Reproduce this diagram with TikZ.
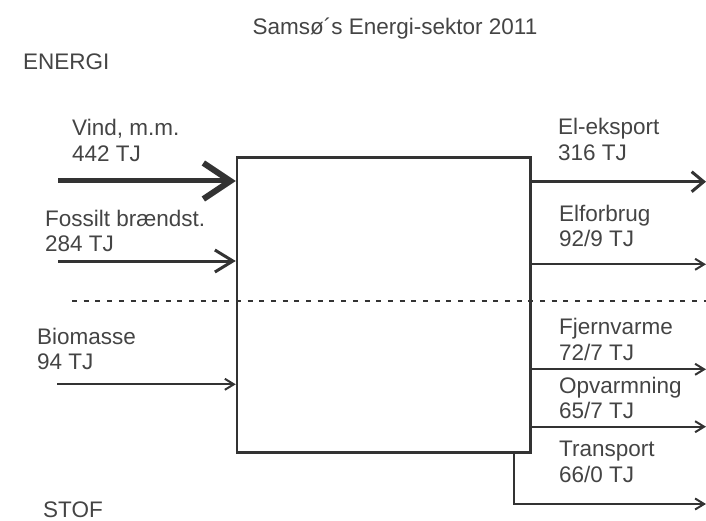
\documentclass[tikz,border=0pt]{standalone}
\usepackage{fontspec}
\setmainfont{Liberation Sans}
\usetikzlibrary{arrows.meta}
\definecolor{txt}{HTML}{444444}
\definecolor{ln}{HTML}{333333}
\tikzset{
  lbl/.style={anchor=base west, inner sep=0pt, text=txt, align=left,
    font=\fontsize{22.5}{25.5}\selectfont},
  ttl/.style={anchor=base, inner sep=0pt, text=txt, font=\fontsize{22.5}{25.5}\selectfont},
  flowbox/.style={draw=ln, line width=2.5pt, minimum width=293.5pt, minimum height=295pt, inner sep=0pt},
  big/.style={draw=ln, line width=5pt, -{Straight Barb[length=27pt,width=36pt,line width=6pt]}},
  mid/.style={draw=ln, line width=3pt, -{Straight Barb[length=18pt,width=22pt]}},
  midr/.style={draw=ln, line width=3pt, -{Straight Barb[length=12pt,width=20pt]}},
  thin/.style={draw=ln, line width=2pt, -{Straight Barb[length=9pt,width=11pt]}},
  sep/.style={draw=ln, line width=2pt, dash pattern=on 5pt off 6.7pt},
}
\begin{document}
\begin{tikzpicture}[x=1pt,y=-1pt]
\useasboundingbox (0,0) rectangle (706,521);
\node[ttl] (title) at (395,35) {Samsø´s Energi-sektor 2011};
\node[lbl] (energi) at (23,70) {ENERGI};
\node[lbl] (stof) at (43,517) {STOF};

\node[flowbox] (box) at (383.75,304.8) {};

% inputs
\coordinate (vS) at (58,181);
\coordinate (fS) at (58,261);
\coordinate (bS) at (57,384.3);
\draw[big] (vS) -- (vS -| box.west);
\draw[mid] (fS) -- (fS -| box.west);
\draw[thin] (bS) -- (bS -| box.west);
\node[lbl] (vind) at (72,161.5) {Vind, m.m.\\442 TJ};
\node[lbl] (foss) at (45,251.5) {Fossilt brændst.\\284 TJ};
\node[lbl] (bio) at (37,369.5) {Biomasse\\94 TJ};

% separator
\coordinate (d1) at (72,300.7);
\coordinate (d2) at (706,300.7);
\draw[sep] (d1) -- (d2);

% outputs
\coordinate (eE) at (706,181.7);
\coordinate (fE) at (706,264.3);
\coordinate (jE) at (706,369.3);
\coordinate (oE) at (706,426.7);
\coordinate (tS) at (514,452.3);
\coordinate (tK) at (514,504);
\coordinate (tE) at (706,504);
\draw[midr] (eE -| box.east) -- (eE);
\draw[thin] (fE -| box.east) -- (fE);
\draw[thin] (jE -| box.east) -- (jE);
\draw[thin] (oE -| box.east) -- (oE);
\draw[thin] (tS) -- (tK) -- (tE);
\node[lbl] (eksp) at (558,160.5) {El-eksport\\316 TJ};
\node[lbl] (elf) at (559,247) {Elforbrug\\92/9 TJ};
\node[lbl] (fjv) at (559,360) {Fjernvarme\\72/7 TJ};
\node[lbl] (opv) at (559,418.5) {Opvarmning\\65/7 TJ};
\node[lbl] (trn) at (559,482) {Transport\\66/0 TJ};
\end{tikzpicture}
\end{document}
